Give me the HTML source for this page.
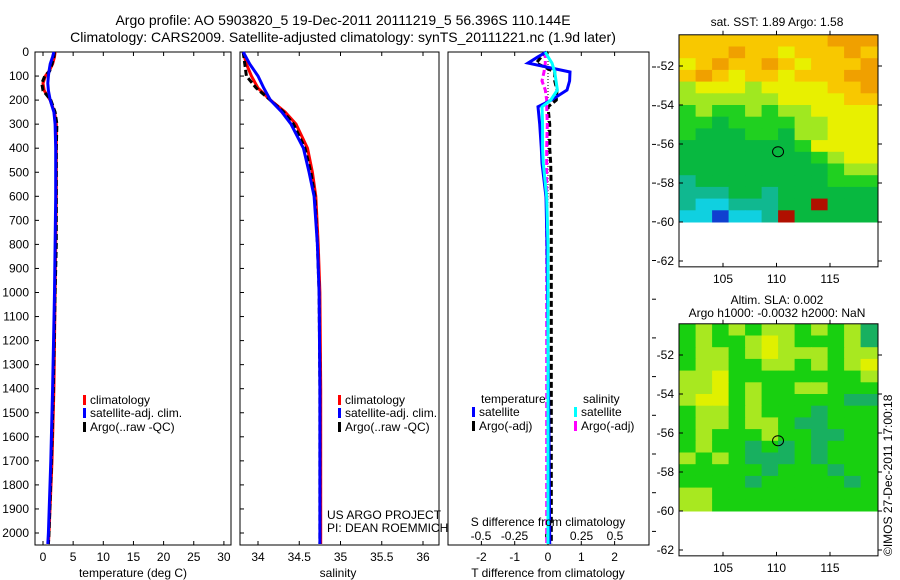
<!DOCTYPE html>
<html><head><meta charset="utf-8">
<style>
html,body{margin:0;padding:0;background:#fff;}
svg{display:block;font-family:"Liberation Sans",sans-serif;}
text{fill:#000;}
</style></head>
<body>
<svg id="fig" width="900" height="580" viewBox="0 0 900 580" xmlns="http://www.w3.org/2000/svg">
<text x="343" y="25" font-size="14" text-anchor="middle">Argo profile: AO 5903820_5 19-Dec-2011 20111219_5 56.396S 110.144E</text>
<text x="343" y="42" font-size="14" text-anchor="middle">Climatology: CARS2009. Satellite-adjusted climatology: synTS_20111221.nc (1.9d later)</text>
<g id="g"></g>
</svg>
<script>
// ---------- data ----------
const depthT = [0,20,50,80,100,130,160,200,250,300,400,600,800,1000,1400,1700,2000,2050];
const tempClim = [2.0,1.9,1.6,1.0,0.4,0.0,0.2,1.2,1.9,2.2,2.2,2.2,2.1,2.0,1.8,1.5,1.0,0.9];
const tempSat = [1.8,1.6,1.2,1.0,0.9,0.8,0.9,1.2,1.8,2.0,2.1,2.1,2.0,1.9,1.6,1.3,0.9,0.8];
const tempArgo = [1.9,1.8,1.5,1.1,0.3,-0.2,0.0,1.3,2.0,2.3,2.2,2.2,2.2,2.0,1.7,1.4,1.0,0.9];
const depthS = [0,50,100,150,200,250,300,400,500,600,800,1000,1400,2000,2050];
const salClim = [33.82,33.86,33.92,34.0,34.15,34.33,34.46,34.6,34.66,34.7,34.73,34.75,34.76,34.76,34.76];
const salSat = [33.82,33.9,34.0,34.07,34.15,34.29,34.4,34.55,34.62,34.68,34.72,34.74,34.75,34.75,34.75];
const salArgo = [33.82,33.84,33.86,33.98,34.15,34.31,34.43,34.57,34.64,34.69,34.72,34.74,34.75,34.75,34.75];
const depthD = [0,20,46,83,120,158,200,228,300,400,462,603,800,1200,1600,2000,2050];
const dTsat = [-0.05,-0.3,-0.6,0.66,0.65,0.57,0.1,-0.3,-0.25,-0.2,-0.18,-0.06,-0.03,0.0,0.03,0.05,0.05];
const dTargo = [0.0,-0.2,-0.35,0.2,0.2,0.27,0.25,0.0,0.05,0.05,0.08,0.1,0.1,0.1,0.1,0.1,0.1];
const dSsat = [-0.02,0.0,0.03,0.05,0.06,0.07,0.02,-0.045,-0.04,-0.04,-0.035,-0.01,0.0,0.0,0.0,0.0,0.0];
const dSargo = [-0.02,-0.02,-0.02,-0.03,-0.045,-0.02,-0.01,-0.01,-0.005,-0.01,-0.01,-0.01,-0.01,-0.01,-0.01,-0.01,-0.01];
const depthTicks = [0,100,200,300,400,500,600,700,800,900,1000,1100,1200,1300,1400,1500,1600,1700,1800,1900,2000];
const tempTicks = [0,5,10,15,20,25,30];
const salTicks = [34,34.5,35,35.5,36];
const salTickLabels = ["34","34.5","35","35.5","36"];
const dTTicks = [-2,-1,0,1,2];
const dSTicks = [-0.5,-0.25,0,0.25,0.5];
const dSTickLabels = ["-0.5","-0.25","0","0.25","0.5"];
const latTicks = [-52,-54,-56,-58,-60,-62];
const lonTicks = [105,110,115];
const argoLon = 110.144, argoLat = -56.396;
const sstGrid = [
"777777777888","777877677787","678778767778","787677677788",
"566656666778","555555666677","454454556666","443444455666",
"433344355666","333333346666","333333334566","333333333455",
"233333333444","222332333333","211222339333","110112933333"];
const slaGrid = [
"232323323231","232234322231","233234333233","233223323234",
"334222222223","334232233222","344232222211","233232221222",
"233233211222","232223221122","232212121222","323211121222",
"222221222122","222212222212","332222222222","332222222222"];

// ---------- scales ----------
const yD = d => 52 + d*0.2405;
const xT = t => 43 + t*6.03;
const xS = s => 258 + (s-34)*82.5;
const xDT = t => 548 + t*33.3;
const xDS = s => 548 + s*134;
const mLon = lon => 723 + (lon-105)*10.7;
const m1Lat = lat => 66 + (-52-lat)*19.5;
const m2Lat = lat => 355 + (-52-lat)*19.5;

const NS="http://www.w3.org/2000/svg";
const G=document.getElementById('g');
function el(tag, attrs, parent){const e=document.createElementNS(NS,tag);for(const k in attrs)e.setAttribute(k,attrs[k]);(parent||G).appendChild(e);return e;}
function txt(x,y,s,size,anchor,parent){const t=el('text',{x:x,y:y,'font-size':size||12,'text-anchor':anchor||'middle'},parent);t.textContent=s;return t;}

function line(xs,ds,xf,color,w,dash,name){
  const pts=xs.map((v,i)=>xf(v).toFixed(1)+','+Math.min(yD(ds[i]),544).toFixed(1)).join(' ');
  const p=el('polyline',{points:pts,fill:'none',stroke:color,'stroke-width':w,'stroke-dasharray':dash||'none'});
  
  
}
function frame(x0,x1,name){
  const r=el('rect',{x:x0,y:52,width:x1-x0,height:493,fill:'none',stroke:'#000','stroke-width':1});
  
  
}

// Panel 1: temperature
frame(35,231,'temperature-panel');
depthTicks.forEach(d=>{
  const t=txt(29,yD(d)+4,String(d),12,'end');
  
  
  el('line',{x1:35,x2:39,y1:yD(d),y2:yD(d),stroke:'#000'});
  el('line',{x1:240,x2:244,y1:yD(d),y2:yD(d),stroke:'#000'});
});
tempTicks.forEach(v=>{
  const x=xT(v);
  el('line',{x1:x,x2:x,y1:52,y2:56,stroke:'#000'});
  el('line',{x1:x,x2:x,y1:545,y2:541,stroke:'#000'});
  const t=txt(x,561,String(v),12);
  
  
});
line(tempClim,depthT,xT,'#f00',3,null,'temperature-climatology-line');
line(tempArgo,depthT,xT,'#000',3,'6,3','temperature-argo-line');
line(tempSat,depthT,xT,'#00f',3,null,'temperature-satellite-line');
let t=txt(133,577,'temperature (deg C)',12);



// Panel 2: salinity
frame(240,439,'salinity-panel');
salTicks.forEach((v,i)=>{
  const x=xS(v);
  el('line',{x1:x,x2:x,y1:52,y2:56,stroke:'#000'});
  el('line',{x1:x,x2:x,y1:545,y2:541,stroke:'#000'});
  const t=txt(x,561,salTickLabels[i],12);
  
  
});
line(salClim,depthS,xS,'#f00',3,null,'salinity-climatology-line');
line(salArgo,depthS,xS,'#000',3,'6,3','salinity-argo-line');
line(salSat,depthS,xS,'#00f',3,null,'salinity-satellite-line');
t=txt(338,577,'salinity',12);



// legends
function legend(x,y,color,label,name){
  const g=el('g',{});
  
  
  el('rect',{x:x,y:y-9,width:3,height:10,fill:color},g);
  txt(x+7,y,label,12,'start',g);
}
legend(83,404,'#f00','climatology','legend-climatology');
legend(83,417,'#00f','satellite-adj. clim.','legend-satellite');
legend(83,431,'#000','Argo(..raw -QC)','legend-argo');
legend(338,404,'#f00','climatology','legend2-climatology');
legend(338,417,'#00f','satellite-adj. clim.','legend2-satellite');
legend(338,431,'#000','Argo(..raw -QC)','legend2-argo');
t=txt(327,519,'US ARGO PROJECT',12,'start');


t=txt(327,532,'PI: DEAN ROEMMICH',12,'start');



// Panel 3: differences
frame(448,649,'difference-panel');
el('line',{x1:548,x2:548,y1:52,y2:545,stroke:'#000','stroke-dasharray':'1,2'});
dTTicks.forEach(v=>{
  const x=xDT(v);
  el('line',{x1:x,x2:x,y1:52,y2:56,stroke:'#000'});
  el('line',{x1:x,x2:x,y1:545,y2:541,stroke:'#000'});
  const t=txt(x,561,String(v),12);
  
  
});
dSTicks.forEach((v,i)=>{
  const t=txt(xDS(v),540,dSTickLabels[i],12);
  
  
});
for(let y=67;y<560;y+=38.7){el('line',{x1:652,x2:656,y1:y,y2:y,stroke:'#000'});}
line(dTargo,depthD,xDT,'#000',3,'6,3','t-diff-argo-line');
line(dSargo,depthD,xDS,'#f0f',3,'6,3','s-diff-argo-line');
line(dTsat,depthD,xDT,'#00f',3,null,'t-diff-satellite-line');
line(dSsat,depthD,xDS,'#0ff',3,null,'s-diff-satellite-line');
t=txt(548,526,'S difference from climatology',12);


t=txt(548,577,'T difference from climatology',12);


t=txt(481,403,'temperature',12,'start');


t=txt(583,403,'salinity',12,'start');


legend(472,416,'#00f','satellite','legend3-t-satellite');
legend(472,430,'#000','Argo(-adj)','legend3-t-argo');
legend(574,416,'#0ff','satellite','legend3-s-satellite');
legend(574,430,'#f0f','Argo(-adj)','legend3-s-argo');

// Maps
const sstColors=['#1040d0','#10d0e0','#10b890','#08b840','#20d020','#a0e820','#e8f000','#f8c800','#f0a000','#b01000'];
const slaColors=['#10a080','#18b060','#18d010','#a8e820','#e0f000'];
function map(yf,grid,colors,name,titleLines,titleY){
  const g=el('g',{});
  
  
  const rows=grid.length, cols=grid[0].length;
  const dLon=(119.4-100.9)/cols, dLat=(60-50.4)/rows;
  for(let r=0;r<rows;r++)for(let c=0;c<cols;c++){
    const lon0=100.9+c*dLon, lat0=-50.4-r*dLat;
    const x0=mLon(lon0), x1=mLon(lon0+dLon), y0=yf(lat0), y1=yf(lat0-dLat);
    const cell=el('rect',{x:x0.toFixed(1),y:y0.toFixed(1),width:(x1-x0+0.5).toFixed(1),height:(y1-y0+0.5).toFixed(1),fill:colors[+grid[r][c]]},g);
    
    
  }
  const top=yf(-50.4), bot=yf(-62.3);
  el('rect',{x:679,y:top,width:199,height:bot-top,fill:'none',stroke:'#000'},g);
  latTicks.forEach(v=>{
    const y=yf(v);
    el('line',{x1:679,x2:683,y1:y,y2:y,stroke:'#000'},g);
    el('line',{x1:878,x2:882,y1:y,y2:y,stroke:'#000'},g);
    txt(674,y+4,String(v),12,'end',g);
  });
  lonTicks.forEach(v=>{
    const x=mLon(v);
    el('line',{x1:x,x2:x,y1:top,y2:top-4,stroke:'#000'},g);
    el('line',{x1:x,x2:x,y1:bot,y2:bot-4,stroke:'#000'},g);
    txt(x,bot+16,String(v),12,'middle',g);
  });
  el('ellipse',{cx:mLon(argoLon),cy:yf(argoLat),rx:5.5,ry:5,fill:'none',stroke:'#000','stroke-width':1},g);
  titleLines.forEach((s,i)=>txt(777,titleY+i*13,s,12,'middle',g));
}
map(m1Lat,sstGrid,sstColors,'sst-map',['sat. SST: 1.89 Argo: 1.58'],26);
map(m2Lat,slaGrid,slaColors,'sla-map',['Altim. SLA: 0.002','Argo h1000: -0.0032 h2000: NaN'],304);
t=txt(0,0,'\u00a9IMOS 27-Dec-2011 17:00:18',12,'start');
t.setAttribute('transform','translate(892,556) rotate(-90)');


</script>
</body></html>
